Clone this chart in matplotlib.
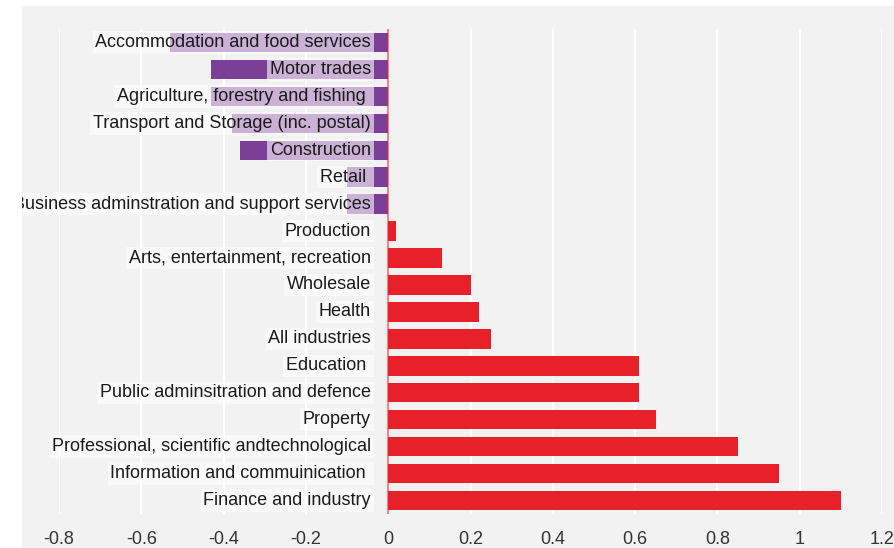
import matplotlib.pyplot as plt
from matplotlib.patches import Rectangle

# data (top to bottom)
industries = [
    'Accommodation and food services',
    'Motor trades',
    'Agriculture, forestry and fishing ',
    'Transport and Storage (inc. postal)',
    'Construction',
    'Retail ',
    'Business adminstration and support services',
    'Production',
    'Arts, entertainment, recreation',
    'Wholesale',
    'Health',
    'All industries',
    'Education ',
    'Public adminsitration and defence',
    'Property',
    'Professional, scientific andtechnological',
    'Information and commuinication ',
    'Finance and industry',
]
values = [-0.53, -0.43, -0.43, -0.38, -0.36, -0.10, -0.10,
          0.02, 0.13, 0.20, 0.22, 0.25, 0.61, 0.61, 0.65, 0.85, 0.95, 1.10]
xticks = [-0.8, -0.6, -0.4, -0.2, 0, 0.2, 0.4, 0.6, 0.8, 1, 1.2]
xtick_labels = ['-0.8', '-0.6', '-0.4', '-0.2', '0', '0.2', '0.4', '0.6', '0.8', '1', '1.2']

purple = '#7b3f98'
red = '#e8202a'
bg = '#f2f2f2'

plt.rcParams['font.family'] = ['Liberation Sans', 'DejaVu Sans']

W, H = 895, 548
fig = plt.figure(figsize=(W / 100, H / 100), dpi=100, facecolor=bg)
ax = fig.add_axes([59 / W, 1 - 514 / H, (882 - 59) / W, (514 - 29) / H])
ax.set_facecolor(bg)

ypos = list(range(len(industries)))
colors = [purple if v < 0 else red for v in values]
ax.barh(ypos, values, height=0.72, color=colors, zorder=2)

# labels sitting next to zero, on a semi-transparent white box
for y, name in zip(ypos, industries):
    ax.text(-0.042, y, name, ha='right', va='center', fontsize=13,
            color='#1a1a1a', zorder=3,
            bbox=dict(boxstyle='square,pad=0.15', fc='white', ec='none', alpha=0.6))

ax.axvline(0, color=red, alpha=0.55, lw=1.5, zorder=4)

ax.set_xlim(-0.8, 1.2)
ax.set_ylim(len(industries) - 0.5, -0.5)
ax.set_xticks(xticks)
ax.set_xticklabels(xtick_labels, fontsize=13, color='#333333')
ax.set_yticks([])
ax.tick_params(axis='x', length=0, pad=12)
ax.grid(axis='x', color='white', lw=1.5, zorder=0)
ax.set_axisbelow(True)
for s in ax.spines.values():
    s.set_visible(False)

# white border strips (left and top) over everything
fig.add_artist(Rectangle((0, 0), 22 / W, 1, transform=fig.transFigure,
                         fc='white', ec='none', zorder=10))
fig.add_artist(Rectangle((0, 1 - 6 / H), 1, 6 / H, transform=fig.transFigure,
                         fc='white', ec='none', zorder=10))

fig.savefig('out.png', dpi=100, facecolor=bg)
